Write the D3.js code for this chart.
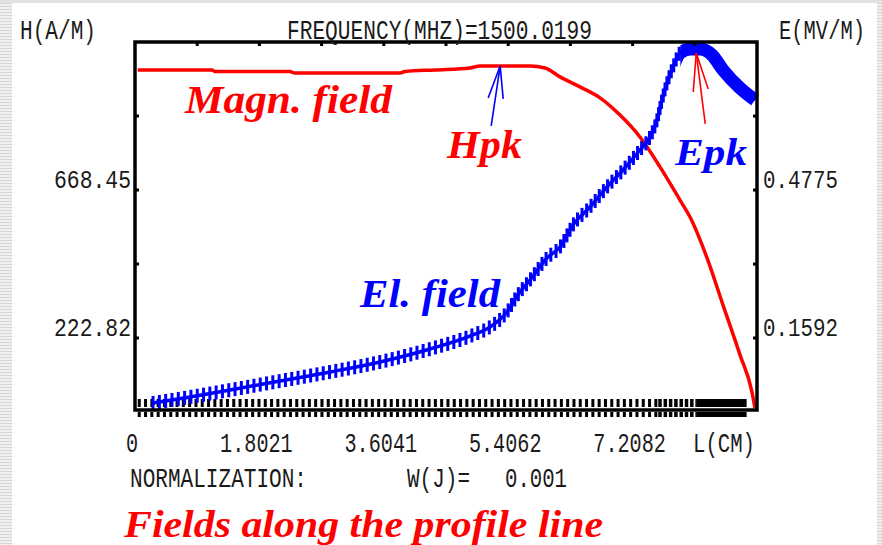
<!DOCTYPE html>
<html><head><meta charset="utf-8">
<script src="https://cdn.jsdelivr.net/npm/d3@7"></script>
<style>body{margin:0;background:#fff}svg{display:block}</style>
</head><body>
<svg id="c" width="882" height="545"></svg>
<script>
// ---- data ----
const hX   = [0.04,1.115,1.159,2.245,2.318,3.839,3.911,4.346,4.853,4.998,5.722,5.939,6.157,6.446,6.736,7.026,7.315,7.605,7.895,8.040,8.286,8.518,8.764,8.938,8.981];
const hVal = [1030,1030,1025,1025,1021,1021,1025,1030,1036,1042,1042,1036,1009,979,946,894,828,738,638,587,464,322,172,60,12];
const eX   = [0.261,0.797,1.376,2.100,2.825,3.549,4.273,4.896,5.143,5.389,5.534,5.722,5.968,6.157,6.345,6.591,6.837,7.069,7.315,7.460,7.562,7.634,7.707,7.794,7.895,8.040,8.185,8.359,8.518,8.764,8.981];
const eVal = [0.0194,0.0323,0.0473,0.0667,0.0861,0.1076,0.1355,0.1657,0.1829,0.2151,0.2496,0.2840,0.3313,0.3550,0.4023,0.4410,0.4841,0.5206,0.5637,0.5916,0.6282,0.6712,0.7078,0.7422,0.7724,0.7810,0.7810,0.7681,0.7358,0.6970,0.6712];
const xTickValues = [0,1.80206,3.60412,5.40618,7.20824];
const xTickLabels = ["0","1.8021","3.6041","5.4062","7.2082"];
const xMinorTicks = [0.90103,1.80206,2.70309,3.60412,4.50515,5.40618,6.30721,7.20824,8.10927];
const hTickValues = [222.82,445.63,668.45,891.26];
const hTickLabels = ["222.82","","668.45",""];
const eTickValues = [0.1592,0.3183,0.4775,0.6366];
const eTickLabels = ["0.1592","","0.4775",""];
const meshBreaks = [0.04, 7.58, 8.14, 8.86];   // sparse mesh, denser mesh, solid mesh end (cm)
const xMax = 9.0103, hMax = 1114.1, eMax = 0.796;
const freqText = "FREQUENCY(MHZ)=1500.0199";
const hPeakX = 5.29, ePeakX = 8.13;

// ---- scales ----
const svg = d3.select("#c");
const L = 135, R = 757, T = 42, B0 = 412;
const x = d3.scaleLinear().domain([0, xMax]).range([L, R]);
const yH = d3.scaleLinear().domain([0, hMax]).range([B0, T]);
const yE = d3.scaleLinear().domain([0, eMax]).range([B0, T]);
const bottom = B0 - 2;

// ---- background strips ----
const defs = svg.append("defs");
const pat = defs.append("pattern").attr("id","stripes").attr("width",4).attr("height",3).attr("patternUnits","userSpaceOnUse");
pat.append("rect").attr("width",4).attr("height",3).attr("fill","#f0f0f0");
pat.append("rect").attr("width",4).attr("height",1).attr("fill","#d6d6d6");
svg.append("rect").attr("x",0).attr("y",0).attr("width",12).attr("height",545).attr("fill","url(#stripes)");
svg.append("rect").attr("x",877).attr("y",0).attr("width",5).attr("height",545).attr("fill","url(#stripes)");
svg.append("rect").attr("x",0).attr("y",0).attr("width",882).attr("height",3).attr("fill","#e2e2e2");

const mono = "'Liberation Mono','DejaVu Sans Mono',monospace";
const serif = "'Liberation Serif','DejaVu Serif',serif";
// narrow, tall monospace text: natural width = len, height stretched to h
function mtext(t, xx, yy, len, anchor, h){
  const fs = len / (t.length * 0.6);
  const sy = (h || 27) / fs;
  return svg.append("text").attr("transform",`translate(${xx},${yy}) scale(1,${sy.toFixed(3)})`).text(t)
    .attr("font-family",mono).attr("font-size",fs.toFixed(2)).attr("fill","#1a1a1a")
    .attr("text-anchor",anchor||"start")
    .attr("textLength",len).attr("lengthAdjust","spacingAndGlyphs");
}
function stext(t, xx, yy, len, color, size){
  return svg.append("text").attr("x",xx).attr("y",yy).text(t)
    .attr("font-family",serif).attr("font-size",size).attr("font-weight","bold").attr("font-style","italic")
    .attr("fill",color).attr("textLength",len).attr("lengthAdjust","spacingAndGlyphs");
}

// ---- mesh rows ----
const meshG = svg.append("g").attr("stroke","#000");
[[403,8],[414.5,5]].forEach(([yy,w])=>{
  meshG.append("line").attr("x1",x(meshBreaks[0])).attr("x2",x(meshBreaks[1])).attr("y1",yy).attr("y2",yy)
    .attr("stroke-width",w).attr("stroke-dasharray","3 3.3");
  meshG.append("line").attr("x1",x(meshBreaks[1])).attr("x2",x(meshBreaks[2])).attr("y1",yy).attr("y2",yy)
    .attr("stroke-width",w).attr("stroke-dasharray","3.5 1.8");
  meshG.append("line").attr("x1",x(meshBreaks[2])).attr("x2",x(meshBreaks[3])).attr("y1",yy).attr("y2",yy)
    .attr("stroke-width",w);
});

// ---- curves ----
const hData = hX.map((v,i)=>[v,hVal[i]]);
const eData = eX.map((v,i)=>[v,eVal[i]]);
const hLine = d3.line().x(d=>x(d[0])).y(d=>yH(d[1])).curve(d3.curveMonotoneX);
const eLine = d3.line().x(d=>x(d[0])).y(d=>yE(d[1])).curve(d3.curveMonotoneX);

svg.append("path").attr("d",hLine(hData)).attr("fill","none").attr("stroke","#ff0000").attr("stroke-width",3.5);

const bandStart = 7.9;
defs.append("clipPath").attr("id","cr").append("rect").attr("x",x(bandStart)).attr("y",0).attr("width",882).attr("height",545);
const ePath = svg.append("path").attr("d",eLine(eData)).attr("fill","none").attr("stroke","#0000ff").attr("stroke-width",3.5);
// vertical mesh bars along the E curve (sampled along the drawn path)
const node = ePath.node(), total = node.getTotalLength();
const bars = [];
for (let s = 0; s < total; s += 6.4) {
  const p = node.getPointAtLength(s);
  if (p.x > x(bandStart)) break;
  bars.push(p);
}
svg.append("g").selectAll("rect").data(bars).join("rect")
  .attr("x",d=>d.x-1.5).attr("y",d=>d.y-7).attr("width",3).attr("height",14).attr("fill","#0000ff");
svg.append("path").attr("d",eLine(eData)).attr("fill","none").attr("stroke","#0000ff").attr("stroke-width",13)
  .attr("clip-path","url(#cr)");

// ---- frame ----
svg.append("rect").attr("x",L).attr("y",T).attr("width",R-L).attr("height",bottom-T)
  .attr("fill","none").attr("stroke","#000").attr("stroke-width",3.5);
const tickG = svg.append("g").attr("fill","#000");
tickG.selectAll(".tt").data(xMinorTicks).join("rect").attr("x",d=>x(d)-1.5).attr("y",T).attr("width",3).attr("height",4);
tickG.selectAll(".tl").data(hTickValues).join("rect").attr("x",L).attr("y",d=>yH(d)-1.5).attr("width",4).attr("height",3);
tickG.selectAll(".tr").data(eTickValues).join("rect").attr("x",R-4).attr("y",d=>yE(d)-1.5).attr("width",4).attr("height",3);

// ---- tick labels ----
hTickValues.forEach((v,i)=>{ if(hTickLabels[i]) mtext(hTickLabels[i], L-4, yH(v)-2, 77, "end", 25); });
eTickValues.forEach((v,i)=>{ if(eTickLabels[i]) mtext(eTickLabels[i], R+6, yE(v)-2, 75, "start", 25); });
xTickValues.forEach((v,i)=>{
  const lab = xTickLabels[i];
  mtext(lab, x(v)-3, 452, lab.length*12.1, "middle", 27);
});
mtext("L(CM)", 755, 452, 62, "end", 27);

// ---- header / footer text ----
mtext("H(A/M)", 20, 39, 76, "start", 28);
mtext(freqText, 287, 39, 305, "start", 28);
mtext("E(MV/M)", 779, 39, 86, "start", 28);
mtext("NORMALIZATION:", 130, 487, 177, "start", 27);
mtext("W(J)=", 407, 487, 63, "start", 27);
mtext("0.001", 505, 487, 62, "start", 27);

// ---- annotations ----
stext("Magn. field", 185, 113, 207, "#ff0000", 40);
stext("El. field", 360, 307, 140, "#0000ff", 40);
stext("Hpk", 447, 158, 75, "#ff0000", 39);
stext("Epk", 675, 165, 72, "#0000ff", 38);
stext("Fields along the profile line", 124, 537, 479, "#ff0000", 38);

// arrows
const hTip = [x(hPeakX), yH(d3.max(hVal))];
const aH = svg.append("g").attr("stroke","#0000ff").attr("stroke-width",1.6).attr("fill","none");
aH.append("line").attr("x1",hTip[0]).attr("y1",hTip[1]).attr("x2",hTip[0]-9).attr("y2",hTip[1]+60);
aH.append("line").attr("x1",hTip[0]).attr("y1",hTip[1]).attr("x2",hTip[0]-12).attr("y2",hTip[1]+32);
aH.append("line").attr("x1",hTip[0]).attr("y1",hTip[1]).attr("x2",hTip[0]+3).attr("y2",hTip[1]+33);
const eTip = [x(ePeakX), yE(d3.max(eVal))+4];
const aE = svg.append("g").attr("stroke","#ff0000").attr("stroke-width",1.6).attr("fill","none");
aE.append("line").attr("x1",eTip[0]).attr("y1",eTip[1]).attr("x2",eTip[0]+9).attr("y2",eTip[1]+71);
aE.append("line").attr("x1",eTip[0]).attr("y1",eTip[1]).attr("x2",eTip[0]-3).attr("y2",eTip[1]+39);
aE.append("line").attr("x1",eTip[0]).attr("y1",eTip[1]).attr("x2",eTip[0]+12).attr("y2",eTip[1]+36);
</script>
</body></html>
